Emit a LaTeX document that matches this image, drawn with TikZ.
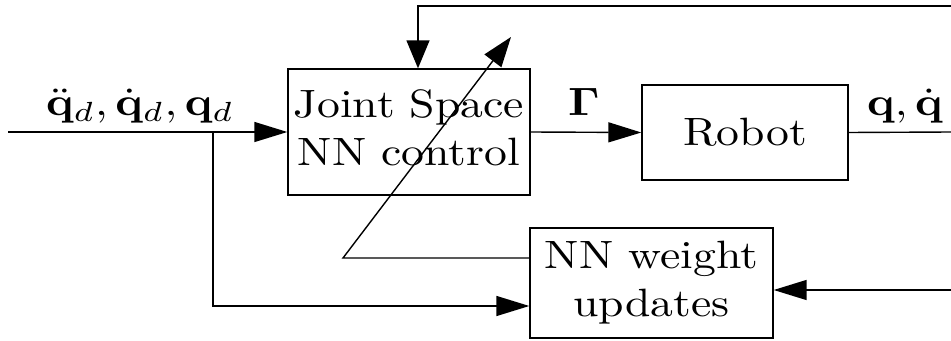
\documentclass[tikz,border=0pt]{standalone}
\usetikzlibrary{arrows.meta,calc}
\newcommand{\sbx}[1]{\scalebox{2.6}[2.25]{#1}}
\begin{document}
\begin{tikzpicture}[x=0.02cm,y=-0.02cm,line width=0.8pt,
  blk/.style={draw,inner sep=0pt,line width=0.8pt},
  harr/.style={-{Triangle[length=0.66cm,width=0.4cm]}},
  varr/.style={-{Triangle[length=0.56cm,width=0.46cm]}},
  darr/.style={-{Triangle[length=0.6cm,width=0.42cm]}},
  lbl/.style={anchor=base,inner sep=0pt}]
\useasboundingbox (0,0) rectangle (951,341);
% blocks
\node[blk,minimum width=4.84cm,minimum height=2.52cm] (joint) at (409,132)
  {\sbx{\begin{tabular}{@{}c@{}}Joint Space\\NN control\end{tabular}}};
\node[blk,minimum width=4.12cm,minimum height=1.9cm] (robot) at (745,132.5)
  {\sbx{Robot}};
\node[blk,minimum width=4.86cm,minimum height=2.2cm] (nn) at (651.5,283)
  {\sbx{\begin{tabular}{@{}c@{}}NN weight\\updates\end{tabular}}};
% free ends
\coordinate (in) at (8,132);
\coordinate (j) at (213,132);
\coordinate (tr) at (951,6);
\coordinate (out) at (951,132);
\coordinate (fb) at (951,290);
\coordinate (ds) at (343,258);
\coordinate (de) at (511,37);
% connectors
\draw[harr] (in) -- (joint.west);
\draw[harr] (j) |- ($(nn.west)+(0,23)$);
\draw[varr] (tr) -| ($(joint.north)+(9,0)$);
\draw[harr] (joint.east) -- (robot.west);
\draw (robot.east) -- (out);
\draw[harr] (fb) -- (nn.east |- fb);
\draw[darr] ($(nn.west)+(0,-25)$) -- (ds) -- (de);
% labels
\node[lbl] (lin) at (140,116) {\sbx{$\ddot{\mathbf{q}}_d, \dot{\mathbf{q}}_d, \mathbf{q}_d$}};
\node[lbl] (lg) at (584,116) {\sbx{$\mathbf{\Gamma}$}};
\node[lbl] (lq) at (905,116) {\sbx{$\mathbf{q}, \dot{\mathbf{q}}$}};
\end{tikzpicture}
\end{document}
